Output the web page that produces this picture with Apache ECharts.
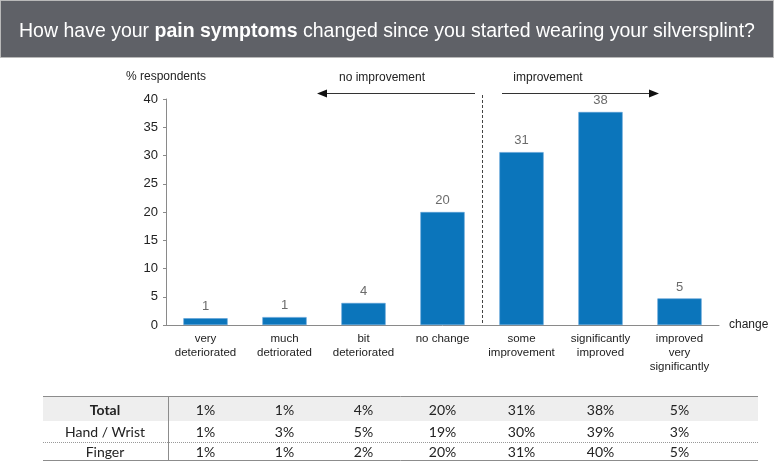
<!DOCTYPE html>
<html><head><meta charset="utf-8">
<script src="https://cdn.jsdelivr.net/npm/echarts@6/dist/echarts.min.js"></script>
<style>html,body{margin:0;padding:0;background:#fff}#c{width:774px;height:461px}</style>
</head><body><div id="c"></div>
<script>
const categories = ['very\ndeteriorated','much\ndetriorated','bit\ndeteriorated','no change','some\nimprovement','significantly\nimproved','improved\nvery\nsignificantly'];
const values = [1.2, 1.4, 3.9, 20, 30.6, 37.7, 4.7];
const yTicks = [0, 5, 10, 15, 20, 25, 30, 35, 40];
const tableRows = ['Total', 'Hand / Wrist', 'Finger'];
const totalRow = ['1%','1%','4%','20%','31%','38%','5%'];
const handRow = ['1%','3%','5%','19%','30%','39%','3%'];
const fingerRow = ['1%','1%','2%','20%','31%','40%','5%'];
const tableData = [totalRow, handRow, fingerRow];

const FONT = '"Liberation Sans",Arial,sans-serif';
const TFONT = 'Lato,"Open Sans",sans-serif';
const chart = echarts.init(document.getElementById('c'));
chart.setOption({
  animation: false,
  textStyle: {fontFamily: FONT},
  title: {
    text: '{n|How have your }{b|pain symptoms}{n| changed since you started wearing your silversplint?}',
    left: 'center', top: 17,
    textStyle: {
      fontWeight: 'normal',
      rich: {
        n: {color: '#fff', fontSize: 19.5, fontWeight: 'normal', fontFamily: FONT},
        b: {color: '#fff', fontSize: 19.5, fontWeight: 'bold', fontFamily: FONT}
      }
    },
    z: 10
  },
  grid: {left: 166, right: 55, top: 99, bottom: 136},
  xAxis: {
    type: 'category', data: categories,
    axisLine: {lineStyle: {color: '#8a8a8a'}},
    axisTick: {show: false},
    axisLabel: {interval: 0, color: '#222', fontSize: 11.5, lineHeight: 14, margin: 7, fontFamily: FONT},
    name: 'change', nameLocation: 'end', nameGap: 10,
    nameTextStyle: {color: '#222', fontSize: 12, fontFamily: FONT, verticalAlign: 'middle', padding: [4,0,0,0]}
  },
  yAxis: {
    type: 'value', min: 0, max: 40, interval: 5,
    axisLine: {show: true, lineStyle: {color: '#8a8a8a'}},
    axisTick: {show: true, length: 3, lineStyle: {color: '#8a8a8a'}},
    splitLine: {show: false},
    axisLabel: {color: '#222', fontSize: 13, margin: 8, fontFamily: FONT,
      formatter: v => yTicks.includes(v) ? String(v) : ''},
    name: '% respondents', nameLocation: 'end', nameGap: 16,
    nameTextStyle: {color: '#222', fontSize: 12, fontFamily: FONT, align: 'center'}
  },
  series: [{
    type: 'bar', data: values, barWidth: '56%',
    itemStyle: {color: '#0b75bb', borderColor: '#5aa0d6', borderWidth: 0.6},
    label: {show: true, position: 'top', distance: 5, color: '#6b6b6b', fontSize: 13, fontFamily: FONT,
      formatter: p => String(Math.round(p.value))}
  }]
});

function px(i){ return chart.convertToPixel({xAxisIndex:0}, i); }
function py(v){ return chart.convertToPixel({yAxisIndex:0}, v); }
const g = [];
g.push({type:'rect', shape:{x:0.5,y:0.5,width:773,height:57}, style:{fill:'#5f6167', stroke:'#b9b9b9', lineWidth:1}, z:-1});
const sepX = Math.round((px(3)+px(4))/2)+0.5;
g.push({type:'line', shape:{x1:sepX,y1:95,x2:sepX,y2:py(0)}, style:{stroke:'#444', lineWidth:1, lineDash:[3,2]}});
const ay = 93.5;
g.push({type:'line', shape:{x1:475,y1:ay,x2:326,y2:ay}, style:{stroke:'#333', lineWidth:1.2}});
g.push({type:'polygon', shape:{points:[[317,ay],[327,ay-4],[327,ay+4]]}, style:{fill:'#111'}});
g.push({type:'text', x:382, y:78, style:{text:'no improvement', fill:'#222', fontSize:12, fontFamily:FONT, align:'center', verticalAlign:'middle'}});
g.push({type:'line', shape:{x1:502,y1:ay,x2:650,y2:ay}, style:{stroke:'#333', lineWidth:1.2}});
g.push({type:'polygon', shape:{points:[[659,ay],[649,ay-4],[649,ay+4]]}, style:{fill:'#111'}});
g.push({type:'text', x:548, y:78, style:{text:'improvement', fill:'#222', fontSize:12, fontFamily:FONT, align:'center', verticalAlign:'middle'}});
const tL = 43, tR = 758, tTop = 396, tBot = 460;
g.push({type:'rect', shape:{x:tL,y:tTop,width:tR-tL,height:25}, style:{fill:'#eeeeee'}});
g.push({type:'line', shape:{x1:tL,y1:tTop+0.5,x2:tR,y2:tTop+0.5}, style:{stroke:'#8c8c8c', lineWidth:1}});
g.push({type:'line', shape:{x1:tL,y1:tBot+0.5,x2:tR,y2:tBot+0.5}, style:{stroke:'#8c8c8c', lineWidth:1}});
g.push({type:'line', shape:{x1:168.5,y1:tTop,x2:168.5,y2:tBot}, style:{stroke:'#8c8c8c', lineWidth:1}});
g.push({type:'line', shape:{x1:tL,y1:442.5,x2:tR,y2:442.5}, style:{stroke:'#999', lineWidth:1, lineDash:[1,1]}});
const rowY = [410, 432, 452];
tableRows.forEach((r, ri) => {
  g.push({type:'text', x:105, y:rowY[ri], style:{text:r, fill:'#222', fontSize:14, fontWeight: ri===0?'bold':'normal', fontFamily:TFONT, align:'center', verticalAlign:'middle'}});
  tableData[ri].forEach((v, ci) => {
    g.push({type:'text', x:px(ci), y:rowY[ri], style:{text:v, fill:'#222', fontSize:14, fontFamily:TFONT, align:'center', verticalAlign:'middle'}});
  });
});
chart.setOption({graphic: g});
</script></body></html>
